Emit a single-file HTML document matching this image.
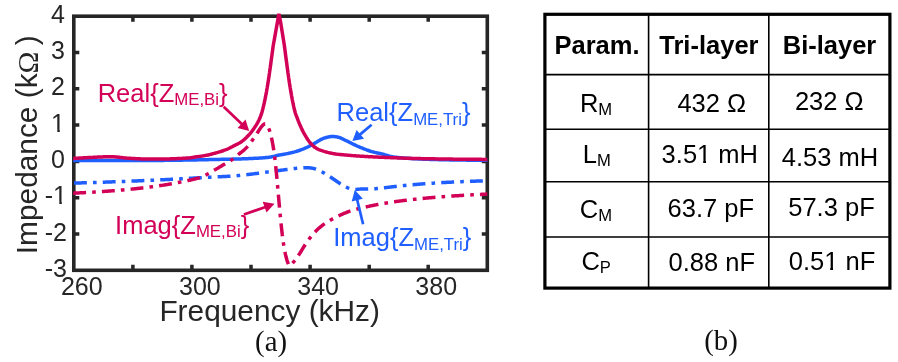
<!DOCTYPE html>
<html><head><meta charset="utf-8"><title>Impedance</title>
<style>
html,body{margin:0;padding:0;background:#fff}
svg{display:block;font-family:"Liberation Sans",sans-serif;will-change:transform}
.serif{font-family:"Liberation Serif",serif}
</style></head>
<body>
<svg width="898" height="362" viewBox="0 0 898 362">
<rect width="898" height="362" fill="#fff"/>
<g stroke="#262626" stroke-width="3.5" fill="none">
<path d="M132.9 270.3V264.8M132.9 16.2V21.7"/>
<path d="M191.9 270.3V264.8M191.9 16.2V21.7"/>
<path d="M251.0 270.3V264.8M251.0 16.2V21.7"/>
<path d="M310.1 270.3V264.8M310.1 16.2V21.7"/>
<path d="M369.2 270.3V264.8M369.2 16.2V21.7"/>
<path d="M428.2 270.3V264.8M428.2 16.2V21.7"/>
<path d="M73.8 234.0H79.3M487.3 234.0H481.8"/>
<path d="M73.8 197.7H79.3M487.3 197.7H481.8"/>
<path d="M73.8 161.4H79.3M487.3 161.4H481.8"/>
<path d="M73.8 125.1H79.3M487.3 125.1H481.8"/>
<path d="M73.8 88.8H79.3M487.3 88.8H481.8"/>
<path d="M73.8 52.5H79.3M487.3 52.5H481.8"/>
</g>
<rect x="73.8" y="16.2" width="413.5" height="254.1" fill="none" stroke="#262626" stroke-width="3.6"/>
<g fill="none" stroke-width="3.5" stroke-linejoin="bevel">
<path d="M73.20 160.51L73.80 160.51L74.54 160.51L75.28 160.52L76.02 160.52L76.75 160.52L77.49 160.53L78.23 160.53L78.97 160.54L79.71 160.54L80.45 160.54L81.18 160.55L81.92 160.55L82.66 160.55L83.40 160.56L84.14 160.56L84.88 160.56L85.61 160.57L86.35 160.57L87.09 160.57L87.83 160.57L88.57 160.58L89.31 160.58L90.04 160.58L90.78 160.58L91.52 160.59L92.26 160.59L93.00 160.59L93.74 160.59L94.47 160.59L95.21 160.60L95.95 160.60L96.69 160.60L97.43 160.60L98.17 160.60L98.91 160.60L99.64 160.61L100.38 160.61L101.12 160.61L101.86 160.61L102.60 160.61L103.34 160.61L104.07 160.61L104.81 160.61L105.55 160.61L106.29 160.61L107.03 160.61L107.77 160.62L108.50 160.62L109.24 160.62L109.98 160.62L110.72 160.62L111.46 160.62L112.20 160.62L112.93 160.62L113.67 160.62L114.41 160.62L115.15 160.61L115.89 160.61L116.63 160.61L117.37 160.61L118.10 160.61L118.84 160.61L119.58 160.61L120.32 160.61L121.06 160.61L121.80 160.61L122.53 160.61L123.27 160.60L124.01 160.60L124.75 160.60L125.49 160.60L126.23 160.60L126.96 160.60L127.70 160.59L128.44 160.59L129.18 160.59L129.92 160.59L130.66 160.59L131.39 160.58L132.13 160.58L132.87 160.58L133.61 160.58L134.35 160.57L135.09 160.57L135.82 160.57L136.56 160.57L137.30 160.56L138.04 160.56L138.78 160.56L139.52 160.55L140.26 160.55L140.99 160.55L141.73 160.54L142.47 160.54L143.21 160.54L143.95 160.53L144.69 160.53L145.42 160.52L146.16 160.52L146.90 160.52L147.64 160.51L148.38 160.51L149.12 160.50L149.85 160.50L150.59 160.49L151.33 160.49L152.07 160.48L152.81 160.48L153.55 160.47L154.28 160.47L155.02 160.46L155.76 160.45L156.50 160.45L157.24 160.44L157.98 160.44L158.72 160.43L159.45 160.42L160.19 160.41L160.93 160.41L161.67 160.40L162.41 160.39L163.15 160.38L163.88 160.38L164.62 160.37L165.36 160.36L166.10 160.35L166.84 160.34L167.58 160.33L168.31 160.33L169.05 160.32L169.79 160.31L170.53 160.30L171.27 160.29L172.01 160.28L172.74 160.27L173.48 160.26L174.22 160.25L174.96 160.24L175.70 160.23L176.44 160.22L177.18 160.21L177.91 160.20L178.65 160.19L179.39 160.18L180.13 160.17L180.87 160.15L181.61 160.14L182.34 160.13L183.08 160.12L183.82 160.11L184.56 160.10L185.30 160.08L186.04 160.07L186.77 160.06L187.51 160.05L188.25 160.04L188.99 160.02L189.73 160.01L190.47 160.00L191.20 159.99L191.94 159.97L192.68 159.96L193.42 159.95L194.16 159.93L194.90 159.92L195.63 159.91L196.37 159.89L197.11 159.88L197.85 159.86L198.59 159.85L199.33 159.83L200.07 159.82L200.80 159.80L201.54 159.78L202.28 159.77L203.02 159.75L203.76 159.73L204.50 159.71L205.23 159.70L205.97 159.68L206.71 159.66L207.45 159.64L208.19 159.63L208.93 159.61L209.66 159.59L210.40 159.58L211.14 159.56L211.88 159.54L212.62 159.53L213.36 159.51L214.09 159.50L214.83 159.48L215.57 159.47L216.31 159.45L217.05 159.44L217.79 159.42L218.52 159.41L219.26 159.39L220.00 159.38L220.74 159.37L221.48 159.35L222.22 159.34L222.96 159.32L223.69 159.31L224.43 159.29L225.17 159.28L225.91 159.26L226.65 159.25L227.39 159.23L228.12 159.22L228.86 159.20L229.60 159.18L230.34 159.17L231.08 159.15L231.82 159.13L232.55 159.12L233.29 159.10L234.03 159.08L234.77 159.06L235.51 159.04L236.25 159.03L236.98 159.01L237.72 158.99L238.46 158.97L239.20 158.94L239.94 158.92L240.68 158.90L241.42 158.88L242.15 158.85L242.89 158.83L243.63 158.81L244.37 158.78L245.11 158.75L245.85 158.73L246.58 158.70L247.32 158.67L248.06 158.64L248.80 158.61L249.54 158.58L250.28 158.55L251.01 158.52L251.75 158.48L252.49 158.45L253.23 158.41L253.97 158.37L254.71 158.34L255.44 158.30L256.18 158.26L256.92 158.21L257.66 158.17L258.40 158.13L259.14 158.08L259.88 158.03L260.61 157.98L261.35 157.93L262.09 157.88L262.83 157.83L263.57 157.77L264.31 157.71L265.04 157.66L265.78 157.59L266.52 157.53L267.26 157.47L268.00 157.40L268.74 157.32L269.47 157.22L270.21 157.10L270.95 156.96L271.69 156.80L272.43 156.64L273.17 156.47L273.90 156.29L274.64 156.10L275.38 155.92L276.12 155.73L276.86 155.55L277.60 155.38L278.33 155.22L279.07 155.07L279.81 154.93L280.55 154.81L281.29 154.68L282.03 154.56L282.77 154.43L283.50 154.30L284.24 154.17L284.98 154.04L285.72 153.90L286.46 153.76L287.20 153.61L287.93 153.47L288.67 153.31L289.41 153.15L290.15 152.99L290.89 152.82L291.63 152.65L292.36 152.47L293.10 152.28L293.84 152.09L294.58 151.89L295.32 151.68L296.06 151.46L296.79 151.24L297.53 151.00L298.27 150.76L299.01 150.51L299.75 150.25L300.49 149.99L301.23 149.71L301.96 149.43L302.70 149.14L303.44 148.84L304.18 148.53L304.92 148.21L305.66 147.89L306.39 147.56L307.13 147.22L307.87 146.87L308.61 146.51L309.35 146.14L310.09 145.76L310.82 145.37L311.56 144.97L312.30 144.56L313.04 144.15L313.78 143.73L314.52 143.30L315.25 142.87L315.99 142.45L316.73 142.01L317.47 141.56L318.21 141.10L318.95 140.65L319.68 140.22L320.42 139.80L321.16 139.42L321.90 139.07L322.64 138.75L323.38 138.45L324.12 138.18L324.85 137.93L325.59 137.70L326.33 137.49L327.07 137.28L327.81 137.09L328.55 136.93L329.28 136.79L330.02 136.68L330.76 136.60L331.50 136.54L332.24 136.50L332.98 136.49L333.71 136.51L334.45 136.56L335.19 136.64L335.93 136.74L336.67 136.87L337.41 137.03L338.14 137.22L338.88 137.43L339.62 137.67L340.36 137.94L341.10 138.23L341.84 138.55L342.57 138.89L343.31 139.24L344.05 139.60L344.79 139.97L345.53 140.33L346.27 140.68L347.01 141.04L347.74 141.40L348.48 141.76L349.22 142.13L349.96 142.50L350.70 142.87L351.44 143.24L352.17 143.60L352.91 143.97L353.65 144.34L354.39 144.70L355.13 145.05L355.87 145.40L356.60 145.74L357.34 146.07L358.08 146.40L358.82 146.72L359.56 147.03L360.30 147.34L361.03 147.64L361.77 147.94L362.51 148.24L363.25 148.54L363.99 148.84L364.73 149.13L365.47 149.42L366.20 149.70L366.94 149.98L367.68 150.24L368.42 150.50L369.16 150.76L369.90 151.00L370.63 151.23L371.37 151.45L372.11 151.66L372.85 151.86L373.59 152.06L374.33 152.24L375.06 152.42L375.80 152.60L376.54 152.76L377.28 152.93L378.02 153.09L378.76 153.24L379.49 153.40L380.23 153.55L380.97 153.71L381.71 153.89L382.45 154.07L383.19 154.27L383.93 154.47L384.66 154.68L385.40 154.89L386.14 155.10L386.88 155.32L387.62 155.53L388.36 155.74L389.09 155.94L389.83 156.14L390.57 156.33L391.31 156.51L392.05 156.67L392.79 156.82L393.52 156.96L394.26 157.08L395.00 157.18L395.74 157.26L396.48 157.34L397.22 157.42L397.95 157.49L398.69 157.56L399.43 157.64L400.17 157.70L400.91 157.77L401.65 157.84L402.38 157.90L403.12 157.96L403.86 158.02L404.60 158.08L405.34 158.14L406.08 158.19L406.82 158.24L407.55 158.30L408.29 158.35L409.03 158.40L409.77 158.44L410.51 158.49L411.25 158.54L411.98 158.58L412.72 158.63L413.46 158.67L414.20 158.71L414.94 158.75L415.68 158.79L416.41 158.83L417.15 158.86L417.89 158.90L418.63 158.94L419.37 158.97L420.11 159.00L420.84 159.04L421.58 159.07L422.32 159.10L423.06 159.13L423.80 159.16L424.54 159.19L425.28 159.22L426.01 159.25L426.75 159.28L427.49 159.30L428.23 159.33L428.97 159.36L429.71 159.38L430.44 159.41L431.18 159.43L431.92 159.45L432.66 159.48L433.40 159.50L434.14 159.52L434.87 159.54L435.61 159.56L436.35 159.58L437.09 159.60L437.83 159.62L438.57 159.64L439.30 159.66L440.04 159.68L440.78 159.70L441.52 159.71L442.26 159.73L443.00 159.75L443.73 159.76L444.47 159.78L445.21 159.80L445.95 159.81L446.69 159.83L447.43 159.84L448.17 159.86L448.90 159.87L449.64 159.88L450.38 159.90L451.12 159.91L451.86 159.92L452.60 159.94L453.33 159.95L454.07 159.96L454.81 159.97L455.55 159.98L456.29 160.00L457.03 160.01L457.76 160.02L458.50 160.03L459.24 160.04L459.98 160.05L460.72 160.06L461.46 160.07L462.19 160.08L462.93 160.09L463.67 160.10L464.41 160.11L465.15 160.11L465.89 160.12L466.62 160.13L467.36 160.14L468.10 160.15L468.84 160.16L469.58 160.16L470.32 160.17L471.06 160.18L471.79 160.18L472.53 160.19L473.27 160.20L474.01 160.21L474.75 160.21L475.49 160.22L476.22 160.22L476.96 160.23L477.70 160.24L478.44 160.24L479.18 160.25L479.92 160.25L480.65 160.26L481.39 160.26L482.13 160.27L482.87 160.27L483.61 160.28L484.35 160.28L485.08 160.29L485.82 160.29L486.56 160.30L487.30 160.30" stroke="#1f5eff"/>
<path d="M73.20 183.11L73.80 183.11L74.54 183.09L75.28 183.07L76.02 183.04L76.75 183.02L77.49 183.00L78.23 182.98L78.97 182.96L79.71 182.93L80.45 182.91L81.18 182.89L81.92 182.87L82.66 182.85L83.40 182.82L84.14 182.80L84.88 182.78L85.61 182.76L86.35 182.73L87.09 182.71L87.83 182.69L88.57 182.66L89.31 182.64L90.04 182.62L90.78 182.59L91.52 182.57L92.26 182.55L93.00 182.52L93.74 182.50L94.47 182.48L95.21 182.45L95.95 182.43L96.69 182.40L97.43 182.38L98.17 182.36L98.91 182.33L99.64 182.31L100.38 182.28L101.12 182.26L101.86 182.23L102.60 182.21L103.34 182.18L104.07 182.16L104.81 182.13L105.55 182.11L106.29 182.08L107.03 182.06L107.77 182.03L108.50 182.00L109.24 181.98L109.98 181.95L110.72 181.93L111.46 181.90L112.20 181.87L112.93 181.85L113.67 181.82L114.41 181.79L115.15 181.76L115.89 181.74L116.63 181.71L117.37 181.68L118.10 181.65L118.84 181.63L119.58 181.60L120.32 181.57L121.06 181.54L121.80 181.51L122.53 181.48L123.27 181.46L124.01 181.43L124.75 181.40L125.49 181.37L126.23 181.34L126.96 181.31L127.70 181.28L128.44 181.25L129.18 181.22L129.92 181.19L130.66 181.16L131.39 181.13L132.13 181.09L132.87 181.06L133.61 181.03L134.35 181.00L135.09 180.97L135.82 180.94L136.56 180.91L137.30 180.88L138.04 180.84L138.78 180.81L139.52 180.78L140.26 180.75L140.99 180.72L141.73 180.68L142.47 180.65L143.21 180.62L143.95 180.59L144.69 180.55L145.42 180.52L146.16 180.49L146.90 180.45L147.64 180.42L148.38 180.39L149.12 180.35L149.85 180.32L150.59 180.29L151.33 180.25L152.07 180.22L152.81 180.19L153.55 180.15L154.28 180.12L155.02 180.08L155.76 180.05L156.50 180.01L157.24 179.98L157.98 179.95L158.72 179.91L159.45 179.88L160.19 179.84L160.93 179.81L161.67 179.77L162.41 179.74L163.15 179.70L163.88 179.67L164.62 179.63L165.36 179.60L166.10 179.56L166.84 179.52L167.58 179.49L168.31 179.45L169.05 179.42L169.79 179.38L170.53 179.34L171.27 179.31L172.01 179.27L172.74 179.23L173.48 179.20L174.22 179.16L174.96 179.12L175.70 179.08L176.44 179.04L177.18 179.01L177.91 178.97L178.65 178.93L179.39 178.89L180.13 178.85L180.87 178.81L181.61 178.77L182.34 178.73L183.08 178.69L183.82 178.65L184.56 178.61L185.30 178.57L186.04 178.52L186.77 178.48L187.51 178.44L188.25 178.40L188.99 178.36L189.73 178.32L190.47 178.28L191.20 178.23L191.94 178.19L192.68 178.15L193.42 178.11L194.16 178.07L194.90 178.02L195.63 177.98L196.37 177.94L197.11 177.90L197.85 177.85L198.59 177.81L199.33 177.77L200.07 177.73L200.80 177.68L201.54 177.64L202.28 177.60L203.02 177.56L203.76 177.51L204.50 177.47L205.23 177.43L205.97 177.39L206.71 177.34L207.45 177.30L208.19 177.26L208.93 177.22L209.66 177.17L210.40 177.13L211.14 177.10L211.88 177.06L212.62 177.02L213.36 176.99L214.09 176.96L214.83 176.92L215.57 176.89L216.31 176.86L217.05 176.83L217.79 176.80L218.52 176.77L219.26 176.74L220.00 176.71L220.74 176.68L221.48 176.65L222.22 176.62L222.96 176.59L223.69 176.55L224.43 176.52L225.17 176.48L225.91 176.44L226.65 176.40L227.39 176.36L228.12 176.32L228.86 176.27L229.60 176.23L230.34 176.18L231.08 176.12L231.82 176.07L232.55 176.02L233.29 175.96L234.03 175.90L234.77 175.84L235.51 175.77L236.25 175.71L236.98 175.64L237.72 175.58L238.46 175.51L239.20 175.44L239.94 175.37L240.68 175.29L241.42 175.22L242.15 175.14L242.89 175.07L243.63 174.99L244.37 174.91L245.11 174.83L245.85 174.74L246.58 174.66L247.32 174.58L248.06 174.49L248.80 174.41L249.54 174.32L250.28 174.23L251.01 174.14L251.75 174.05L252.49 173.96L253.23 173.87L253.97 173.78L254.71 173.68L255.44 173.59L256.18 173.50L256.92 173.40L257.66 173.31L258.40 173.21L259.14 173.12L259.88 173.02L260.61 172.92L261.35 172.83L262.09 172.73L262.83 172.63L263.57 172.53L264.31 172.43L265.04 172.34L265.78 172.24L266.52 172.14L267.26 172.04L268.00 171.94L268.74 171.85L269.47 171.75L270.21 171.65L270.95 171.55L271.69 171.46L272.43 171.36L273.17 171.26L273.90 171.17L274.64 171.07L275.38 170.98L276.12 170.88L276.86 170.79L277.60 170.69L278.33 170.59L279.07 170.50L279.81 170.40L280.55 170.30L281.29 170.20L282.03 170.11L282.77 170.01L283.50 169.91L284.24 169.81L284.98 169.71L285.72 169.61L286.46 169.52L287.20 169.42L287.93 169.32L288.67 169.23L289.41 169.13L290.15 169.04L290.89 168.95L291.63 168.86L292.36 168.77L293.10 168.68L293.84 168.59L294.58 168.51L295.32 168.43L296.06 168.35L296.79 168.27L297.53 168.20L298.27 168.13L299.01 168.06L299.75 168.00L300.49 167.94L301.23 167.89L301.96 167.84L302.70 167.80L303.44 167.77L304.18 167.74L304.92 167.72L305.66 167.70L306.39 167.70L307.13 167.71L307.87 167.73L308.61 167.78L309.35 167.83L310.09 167.91L310.82 168.00L311.56 168.10L312.30 168.23L313.04 168.36L313.78 168.51L314.52 168.68L315.25 168.86L315.99 169.08L316.73 169.33L317.47 169.61L318.21 169.92L318.95 170.26L319.68 170.62L320.42 171.00L321.16 171.40L321.90 171.81L322.64 172.24L323.38 172.68L324.12 173.12L324.85 173.56L325.59 174.00L326.33 174.43L327.07 174.87L327.81 175.32L328.55 175.78L329.28 176.25L330.02 176.73L330.76 177.22L331.50 177.71L332.24 178.21L332.98 178.72L333.71 179.23L334.45 179.74L335.19 180.25L335.93 180.77L336.67 181.29L337.41 181.80L338.14 182.31L338.88 182.82L339.62 183.32L340.36 183.81L341.10 184.29L341.84 184.75L342.57 185.20L343.31 185.63L344.05 186.04L344.79 186.43L345.53 186.80L346.27 187.14L347.01 187.47L347.74 187.77L348.48 188.05L349.22 188.31L349.96 188.54L350.70 188.76L351.44 188.95L352.17 189.12L352.91 189.26L353.65 189.36L354.39 189.41L355.13 189.43L355.87 189.42L356.60 189.38L357.34 189.33L358.08 189.26L358.82 189.19L359.56 189.13L360.30 189.07L361.03 189.02L361.77 189.00L362.51 189.00L363.25 189.00L363.99 189.00L364.73 188.99L365.47 188.99L366.20 188.98L366.94 188.97L367.68 188.96L368.42 188.95L369.16 188.94L369.90 188.92L370.63 188.90L371.37 188.88L372.11 188.86L372.85 188.83L373.59 188.80L374.33 188.76L375.06 188.72L375.80 188.67L376.54 188.62L377.28 188.57L378.02 188.50L378.76 188.43L379.49 188.36L380.23 188.27L380.97 188.19L381.71 188.10L382.45 188.01L383.19 187.92L383.93 187.83L384.66 187.74L385.40 187.65L386.14 187.56L386.88 187.47L387.62 187.38L388.36 187.29L389.09 187.21L389.83 187.12L390.57 187.03L391.31 186.94L392.05 186.85L392.79 186.76L393.52 186.68L394.26 186.59L395.00 186.51L395.74 186.42L396.48 186.34L397.22 186.25L397.95 186.17L398.69 186.09L399.43 186.01L400.17 185.93L400.91 185.85L401.65 185.77L402.38 185.69L403.12 185.62L403.86 185.54L404.60 185.47L405.34 185.39L406.08 185.32L406.82 185.25L407.55 185.18L408.29 185.11L409.03 185.04L409.77 184.97L410.51 184.91L411.25 184.84L411.98 184.77L412.72 184.71L413.46 184.64L414.20 184.58L414.94 184.52L415.68 184.45L416.41 184.39L417.15 184.33L417.89 184.27L418.63 184.21L419.37 184.15L420.11 184.09L420.84 184.04L421.58 183.98L422.32 183.92L423.06 183.87L423.80 183.81L424.54 183.76L425.28 183.70L426.01 183.65L426.75 183.59L427.49 183.54L428.23 183.49L428.97 183.44L429.71 183.39L430.44 183.34L431.18 183.29L431.92 183.24L432.66 183.19L433.40 183.14L434.14 183.10L434.87 183.05L435.61 183.00L436.35 182.96L437.09 182.91L437.83 182.87L438.57 182.82L439.30 182.78L440.04 182.74L440.78 182.69L441.52 182.65L442.26 182.61L443.00 182.57L443.73 182.53L444.47 182.49L445.21 182.45L445.95 182.41L446.69 182.37L447.43 182.33L448.17 182.29L448.90 182.25L449.64 182.22L450.38 182.18L451.12 182.14L451.86 182.11L452.60 182.07L453.33 182.04L454.07 182.00L454.81 181.97L455.55 181.93L456.29 181.90L457.03 181.86L457.76 181.83L458.50 181.80L459.24 181.77L459.98 181.73L460.72 181.70L461.46 181.67L462.19 181.64L462.93 181.61L463.67 181.58L464.41 181.55L465.15 181.52L465.89 181.49L466.62 181.46L467.36 181.44L468.10 181.41L468.84 181.38L469.58 181.35L470.32 181.33L471.06 181.30L471.79 181.27L472.53 181.25L473.27 181.22L474.01 181.20L474.75 181.17L475.49 181.15L476.22 181.12L476.96 181.10L477.70 181.07L478.44 181.05L479.18 181.03L479.92 181.00L480.65 180.98L481.39 180.96L482.13 180.94L482.87 180.92L483.61 180.89L484.35 180.87L485.08 180.85L485.82 180.83L486.56 180.81L487.30 180.79" stroke="#1f5eff" stroke-dasharray="12.9 6.1 3.65 6.1" stroke-dashoffset="-0.8"/>
<path d="M73.20 158.45L73.80 158.45L74.54 158.40L75.28 158.35L76.02 158.30L76.75 158.25L77.49 158.20L78.23 158.16L78.97 158.11L79.71 158.06L80.45 158.02L81.18 157.97L81.92 157.93L82.66 157.89L83.40 157.84L84.14 157.80L84.88 157.76L85.61 157.72L86.35 157.68L87.09 157.64L87.83 157.60L88.57 157.56L89.31 157.53L90.04 157.49L90.78 157.46L91.52 157.42L92.26 157.38L93.00 157.35L93.74 157.31L94.47 157.27L95.21 157.23L95.95 157.20L96.69 157.16L97.43 157.12L98.17 157.09L98.91 157.05L99.64 157.01L100.38 156.98L101.12 156.95L101.86 156.92L102.60 156.89L103.34 156.86L104.07 156.83L104.81 156.81L105.55 156.78L106.29 156.76L107.03 156.75L107.77 156.73L108.50 156.72L109.24 156.71L109.98 156.70L110.72 156.70L111.46 156.71L112.20 156.73L112.93 156.76L113.67 156.80L114.41 156.85L115.15 156.90L115.89 156.96L116.63 157.03L117.37 157.09L118.10 157.17L118.84 157.24L119.58 157.32L120.32 157.41L121.06 157.49L121.80 157.57L122.53 157.65L123.27 157.74L124.01 157.82L124.75 157.89L125.49 157.97L126.23 158.04L126.96 158.11L127.70 158.17L128.44 158.23L129.18 158.27L129.92 158.32L130.66 158.36L131.39 158.40L132.13 158.44L132.87 158.49L133.61 158.53L134.35 158.57L135.09 158.61L135.82 158.65L136.56 158.69L137.30 158.72L138.04 158.76L138.78 158.80L139.52 158.83L140.26 158.86L140.99 158.89L141.73 158.92L142.47 158.95L143.21 158.98L143.95 159.00L144.69 159.02L145.42 159.04L146.16 159.06L146.90 159.07L147.64 159.08L148.38 159.09L149.12 159.10L149.85 159.10L150.59 159.10L151.33 159.11L152.07 159.11L152.81 159.11L153.55 159.11L154.28 159.11L155.02 159.11L155.76 159.11L156.50 159.11L157.24 159.10L157.98 159.10L158.72 159.09L159.45 159.09L160.19 159.08L160.93 159.08L161.67 159.07L162.41 159.06L163.15 159.05L163.88 159.03L164.62 159.02L165.36 159.01L166.10 158.99L166.84 158.97L167.58 158.95L168.31 158.93L169.05 158.91L169.79 158.89L170.53 158.86L171.27 158.84L172.01 158.81L172.74 158.78L173.48 158.76L174.22 158.73L174.96 158.70L175.70 158.67L176.44 158.64L177.18 158.60L177.91 158.57L178.65 158.53L179.39 158.50L180.13 158.46L180.87 158.42L181.61 158.38L182.34 158.34L183.08 158.30L183.82 158.26L184.56 158.22L185.30 158.17L186.04 158.12L186.77 158.08L187.51 158.03L188.25 157.98L188.99 157.92L189.73 157.86L190.47 157.79L191.20 157.69L191.94 157.58L192.68 157.46L193.42 157.33L194.16 157.20L194.90 157.07L195.63 156.96L196.37 156.85L197.11 156.74L197.85 156.64L198.59 156.53L199.33 156.43L200.07 156.33L200.80 156.22L201.54 156.12L202.28 156.01L203.02 155.89L203.76 155.78L204.50 155.65L205.23 155.52L205.97 155.39L206.71 155.24L207.45 155.09L208.19 154.92L208.93 154.75L209.66 154.58L210.40 154.39L211.14 154.20L211.88 154.01L212.62 153.81L213.36 153.61L214.09 153.40L214.83 153.20L215.57 152.99L216.31 152.79L217.05 152.58L217.79 152.36L218.52 152.14L219.26 151.92L220.00 151.70L220.74 151.46L221.48 151.23L222.22 150.98L222.96 150.73L223.69 150.48L224.43 150.21L225.17 149.94L225.91 149.66L226.65 149.36L227.39 149.05L228.12 148.72L228.86 148.38L229.60 148.03L230.34 147.67L231.08 147.31L231.82 146.93L232.55 146.56L233.29 146.18L234.03 145.80L234.77 145.42L235.51 145.05L236.25 144.68L236.98 144.30L237.72 143.92L238.46 143.52L239.20 143.10L239.94 142.66L240.68 142.20L241.42 141.71L242.15 141.19L242.89 140.63L243.63 140.02L244.37 139.38L245.11 138.70L245.85 137.99L246.58 137.26L247.32 136.50L248.06 135.74L248.80 134.95L249.54 134.14L250.28 133.29L251.01 132.41L251.75 131.47L252.49 130.48L253.23 129.44L253.97 128.40L254.71 127.35L255.44 126.27L256.18 125.11L256.92 123.86L257.66 122.56L258.40 121.21L259.14 119.74L259.88 118.06L260.61 116.21L261.35 114.15L262.09 111.68L262.83 108.89L263.57 105.89L264.31 102.65L265.04 99.18L265.78 95.45L266.52 91.47L267.26 87.23L268.00 82.72L268.74 77.96L269.47 72.96L270.21 67.76L270.95 62.39L271.69 56.92L272.43 51.42L273.17 45.99L278.90 13.90L280.50 21.50L284.24 44.79L284.98 50.30L285.72 55.92L286.46 61.56L287.20 67.12L287.93 72.53L288.67 77.74L289.41 82.73L290.15 87.46L290.89 91.92L291.63 96.12L292.36 100.05L293.10 103.73L293.84 107.15L294.58 110.34L295.32 112.97L296.06 115.08L296.79 116.97L297.53 118.96L298.27 120.89L299.01 122.70L299.75 124.43L300.49 126.12L301.23 127.79L301.96 129.38L302.70 130.88L303.44 132.31L304.18 133.66L304.92 134.93L305.66 136.16L306.39 137.38L307.13 138.57L307.87 139.72L308.61 140.81L309.35 141.82L310.09 142.74L310.82 143.57L311.56 144.35L312.30 145.08L313.04 145.77L313.78 146.42L314.52 147.02L315.25 147.56L315.99 148.06L316.73 148.51L317.47 148.91L318.21 149.27L318.95 149.60L319.68 149.91L320.42 150.18L321.16 150.44L321.90 150.68L322.64 150.92L323.38 151.15L324.12 151.37L324.85 151.60L325.59 151.82L326.33 152.02L327.07 152.22L327.81 152.41L328.55 152.59L329.28 152.77L330.02 152.93L330.76 153.09L331.50 153.24L332.24 153.39L332.98 153.53L333.71 153.66L334.45 153.78L335.19 153.90L335.93 154.01L336.67 154.11L337.41 154.21L338.14 154.30L338.88 154.38L339.62 154.46L340.36 154.54L341.10 154.61L341.84 154.68L342.57 154.75L343.31 154.81L344.05 154.87L344.79 154.93L345.53 155.00L346.27 155.06L347.01 155.12L347.74 155.18L348.48 155.25L349.22 155.31L349.96 155.38L350.70 155.44L351.44 155.50L352.17 155.56L352.91 155.62L353.65 155.68L354.39 155.73L355.13 155.78L355.87 155.84L356.60 155.89L357.34 155.94L358.08 155.99L358.82 156.04L359.56 156.09L360.30 156.13L361.03 156.18L361.77 156.23L362.51 156.28L363.25 156.32L363.99 156.37L364.73 156.41L365.47 156.46L366.20 156.50L366.94 156.54L367.68 156.59L368.42 156.63L369.16 156.67L369.90 156.71L370.63 156.75L371.37 156.79L372.11 156.83L372.85 156.87L373.59 156.90L374.33 156.94L375.06 156.98L375.80 157.01L376.54 157.05L377.28 157.08L378.02 157.11L378.76 157.15L379.49 157.18L380.23 157.21L380.97 157.24L381.71 157.27L382.45 157.30L383.19 157.34L383.93 157.37L384.66 157.40L385.40 157.43L386.14 157.46L386.88 157.49L387.62 157.52L388.36 157.55L389.09 157.58L389.83 157.61L390.57 157.64L391.31 157.67L392.05 157.70L392.79 157.73L393.52 157.76L394.26 157.79L395.00 157.82L395.74 157.85L396.48 157.87L397.22 157.90L397.95 157.93L398.69 157.96L399.43 157.99L400.17 158.01L400.91 158.04L401.65 158.07L402.38 158.09L403.12 158.12L403.86 158.15L404.60 158.17L405.34 158.20L406.08 158.22L406.82 158.25L407.55 158.27L408.29 158.29L409.03 158.32L409.77 158.34L410.51 158.36L411.25 158.38L411.98 158.40L412.72 158.42L413.46 158.44L414.20 158.46L414.94 158.48L415.68 158.50L416.41 158.52L417.15 158.54L417.89 158.56L418.63 158.57L419.37 158.59L420.11 158.60L420.84 158.62L421.58 158.63L422.32 158.65L423.06 158.66L423.80 158.67L424.54 158.69L425.28 158.70L426.01 158.72L426.75 158.73L427.49 158.74L428.23 158.76L428.97 158.77L429.71 158.78L430.44 158.79L431.18 158.81L431.92 158.82L432.66 158.83L433.40 158.84L434.14 158.86L434.87 158.87L435.61 158.88L436.35 158.89L437.09 158.90L437.83 158.91L438.57 158.93L439.30 158.94L440.04 158.95L440.78 158.96L441.52 158.97L442.26 158.98L443.00 158.99L443.73 159.00L444.47 159.01L445.21 159.02L445.95 159.03L446.69 159.04L447.43 159.05L448.17 159.06L448.90 159.07L449.64 159.08L450.38 159.09L451.12 159.10L451.86 159.11L452.60 159.12L453.33 159.13L454.07 159.13L454.81 159.14L455.55 159.15L456.29 159.16L457.03 159.17L457.76 159.18L458.50 159.18L459.24 159.19L459.98 159.20L460.72 159.21L461.46 159.21L462.19 159.22L462.93 159.23L463.67 159.24L464.41 159.24L465.15 159.25L465.89 159.26L466.62 159.26L467.36 159.27L468.10 159.28L468.84 159.28L469.58 159.29L470.32 159.30L471.06 159.30L471.79 159.31L472.53 159.31L473.27 159.32L474.01 159.32L474.75 159.33L475.49 159.33L476.22 159.34L476.96 159.34L477.70 159.35L478.44 159.35L479.18 159.36L479.92 159.36L480.65 159.37L481.39 159.37L482.13 159.38L482.87 159.38L483.61 159.38L484.35 159.39L485.08 159.39L485.82 159.39L486.56 159.40L487.30 159.40" stroke="#d30057"/>
<path d="M73.20 193.14L73.80 193.14L74.54 193.10L75.28 193.07L76.02 193.03L76.75 193.00L77.49 192.96L78.23 192.93L78.97 192.89L79.71 192.86L80.45 192.82L81.18 192.78L81.92 192.75L82.66 192.71L83.40 192.67L84.14 192.63L84.88 192.59L85.61 192.55L86.35 192.51L87.09 192.47L87.83 192.43L88.57 192.39L89.31 192.35L90.04 192.31L90.78 192.26L91.52 192.22L92.26 192.18L93.00 192.13L93.74 192.09L94.47 192.04L95.21 192.00L95.95 191.95L96.69 191.90L97.43 191.86L98.17 191.81L98.91 191.76L99.64 191.71L100.38 191.66L101.12 191.61L101.86 191.56L102.60 191.51L103.34 191.46L104.07 191.41L104.81 191.36L105.55 191.30L106.29 191.25L107.03 191.20L107.77 191.15L108.50 191.09L109.24 191.04L109.98 190.98L110.72 190.93L111.46 190.87L112.20 190.81L112.93 190.76L113.67 190.70L114.41 190.64L115.15 190.58L115.89 190.53L116.63 190.47L117.37 190.40L118.10 190.34L118.84 190.28L119.58 190.22L120.32 190.16L121.06 190.09L121.80 190.03L122.53 189.96L123.27 189.90L124.01 189.83L124.75 189.76L125.49 189.70L126.23 189.63L126.96 189.56L127.70 189.49L128.44 189.41L129.18 189.34L129.92 189.27L130.66 189.19L131.39 189.12L132.13 189.05L132.87 188.97L133.61 188.89L134.35 188.82L135.09 188.74L135.82 188.66L136.56 188.58L137.30 188.50L138.04 188.42L138.78 188.34L139.52 188.26L140.26 188.18L140.99 188.09L141.73 188.01L142.47 187.93L143.21 187.84L143.95 187.75L144.69 187.67L145.42 187.58L146.16 187.49L146.90 187.40L147.64 187.31L148.38 187.22L149.12 187.12L149.85 187.03L150.59 186.93L151.33 186.84L152.07 186.74L152.81 186.64L153.55 186.54L154.28 186.44L155.02 186.34L155.76 186.24L156.50 186.13L157.24 186.03L157.98 185.92L158.72 185.82L159.45 185.71L160.19 185.60L160.93 185.49L161.67 185.37L162.41 185.26L163.15 185.14L163.88 185.03L164.62 184.91L165.36 184.79L166.10 184.67L166.84 184.55L167.58 184.42L168.31 184.30L169.05 184.17L169.79 184.05L170.53 183.92L171.27 183.79L172.01 183.66L172.74 183.53L173.48 183.39L174.22 183.26L174.96 183.12L175.70 182.99L176.44 182.85L177.18 182.71L177.91 182.57L178.65 182.43L179.39 182.28L180.13 182.14L180.87 181.99L181.61 181.85L182.34 181.70L183.08 181.56L183.82 181.41L184.56 181.26L185.30 181.11L186.04 180.96L186.77 180.80L187.51 180.65L188.25 180.49L188.99 180.33L189.73 180.17L190.47 180.00L191.20 179.84L191.94 179.67L192.68 179.49L193.42 179.32L194.16 179.14L194.90 178.95L195.63 178.77L196.37 178.57L197.11 178.38L197.85 178.18L198.59 177.97L199.33 177.76L200.07 177.53L200.80 177.28L201.54 177.00L202.28 176.69L203.02 176.37L203.76 176.02L204.50 175.66L205.23 175.29L205.97 174.90L206.71 174.50L207.45 174.09L208.19 173.67L208.93 173.24L209.66 172.81L210.40 172.38L211.14 171.95L211.88 171.52L212.62 171.09L213.36 170.66L214.09 170.25L214.83 169.84L215.57 169.43L216.31 169.01L217.05 168.58L217.79 168.15L218.52 167.71L219.26 167.27L220.00 166.83L220.74 166.38L221.48 165.94L222.22 165.50L222.96 165.06L223.69 164.63L224.43 164.21L225.17 163.79L225.91 163.37L226.65 162.95L227.39 162.52L228.12 162.08L228.86 161.64L229.60 161.18L230.34 160.71L231.08 160.23L231.82 159.73L232.55 159.21L233.29 158.66L234.03 158.09L234.77 157.50L235.51 156.90L236.25 156.28L236.98 155.66L237.72 155.05L238.46 154.43L239.20 153.83L239.94 153.25L240.68 152.67L241.41 152.10L242.15 151.52L242.88 150.93L243.61 150.33L244.34 149.70L245.07 149.04L245.80 148.35L246.53 147.61L247.25 146.83L247.98 145.99L248.70 145.11L249.42 144.20L250.15 143.27L250.87 142.32L251.58 141.34L252.30 140.35L253.02 139.35L253.74 138.34L254.45 137.30L255.16 136.25L255.88 135.19L256.57 134.12L257.25 133.04L257.92 131.97L258.57 130.92L259.21 129.91L259.85 128.94L260.49 128.02L261.12 127.14L261.77 126.33L262.41 125.59L263.07 124.94L263.72 124.40L264.36 124.00L265.00 123.79L265.65 123.81L266.31 124.13L266.98 124.80L267.68 125.88L268.42 127.43L269.22 129.53L270.08 132.23L270.98 135.61L271.91 139.69L272.84 144.53L273.75 150.14L274.62 156.49L275.43 163.54L276.21 171.19L276.98 179.32L277.75 187.76L278.52 196.35L279.28 204.87L280.04 213.16L280.80 221.02L281.56 228.33L282.32 234.98L283.09 240.89L283.85 246.03L284.62 250.43L285.38 254.15L286.15 257.31L286.92 260.06L287.68 262.47L288.45 264.40L289.21 265.59L289.97 265.87L290.73 265.36L291.50 264.46L292.26 263.49L293.03 262.58L293.79 261.73L294.55 260.85L295.30 259.91L296.05 258.92L296.79 257.88L297.53 256.80L298.27 255.70L299.01 254.57L299.75 253.41L300.49 252.23L301.23 251.02L301.96 249.81L302.70 248.60L303.44 247.40L304.18 246.22L304.92 245.06L305.66 243.94L306.39 242.86L307.13 241.81L307.87 240.78L308.61 239.77L309.35 238.78L310.09 237.81L310.82 236.86L311.56 235.94L312.30 235.04L313.04 234.17L313.78 233.32L314.52 232.50L315.25 231.71L315.99 230.94L316.73 230.20L317.47 229.49L318.21 228.81L318.95 228.15L319.68 227.53L320.42 226.93L321.16 226.34L321.90 225.77L322.64 225.21L323.38 224.67L324.12 224.14L324.85 223.63L325.59 223.13L326.33 222.64L327.07 222.16L327.81 221.69L328.55 221.24L329.28 220.79L330.02 220.36L330.76 219.93L331.50 219.51L332.24 219.10L332.98 218.70L333.71 218.31L334.45 217.92L335.19 217.54L335.93 217.17L336.67 216.80L337.41 216.43L338.14 216.07L338.88 215.72L339.62 215.37L340.36 215.03L341.10 214.70L341.84 214.37L342.57 214.04L343.31 213.73L344.05 213.42L344.79 213.11L345.53 212.82L346.27 212.53L347.01 212.24L347.74 211.97L348.48 211.70L349.22 211.44L349.96 211.18L350.70 210.93L351.44 210.69L352.17 210.46L352.91 210.23L353.65 210.01L354.39 209.79L355.13 209.57L355.87 209.36L356.60 209.16L357.34 208.96L358.08 208.76L358.82 208.57L359.56 208.38L360.30 208.20L361.03 208.02L361.77 207.84L362.51 207.67L363.25 207.50L363.99 207.33L364.73 207.16L365.47 207.00L366.20 206.83L366.94 206.67L367.68 206.52L368.42 206.36L369.16 206.21L369.90 206.05L370.63 205.90L371.37 205.75L372.11 205.60L372.85 205.45L373.59 205.30L374.33 205.16L375.06 205.01L375.80 204.87L376.54 204.73L377.28 204.59L378.02 204.45L378.76 204.31L379.49 204.18L380.23 204.05L380.97 203.92L381.71 203.79L382.45 203.66L383.19 203.53L383.93 203.40L384.66 203.28L385.40 203.16L386.14 203.04L386.88 202.92L387.62 202.80L388.36 202.68L389.09 202.57L389.83 202.45L390.57 202.34L391.31 202.23L392.05 202.11L392.79 202.01L393.52 201.90L394.26 201.79L395.00 201.68L395.74 201.58L396.48 201.48L397.22 201.37L397.95 201.27L398.69 201.17L399.43 201.08L400.17 200.98L400.91 200.88L401.65 200.79L402.38 200.69L403.12 200.60L403.86 200.51L404.60 200.41L405.34 200.32L406.08 200.23L406.82 200.15L407.55 200.06L408.29 199.97L409.03 199.88L409.77 199.80L410.51 199.71L411.25 199.63L411.98 199.55L412.72 199.47L413.46 199.38L414.20 199.30L414.94 199.22L415.68 199.15L416.41 199.07L417.15 198.99L417.89 198.91L418.63 198.84L419.37 198.76L420.11 198.69L420.84 198.61L421.58 198.54L422.32 198.47L423.06 198.40L423.80 198.33L424.54 198.26L425.28 198.19L426.01 198.12L426.75 198.05L427.49 197.98L428.23 197.92L428.97 197.85L429.71 197.78L430.44 197.72L431.18 197.65L431.92 197.59L432.66 197.53L433.40 197.46L434.14 197.40L434.87 197.34L435.61 197.28L436.35 197.22L437.09 197.16L437.83 197.10L438.57 197.04L439.30 196.98L440.04 196.92L440.78 196.87L441.52 196.81L442.26 196.75L443.00 196.70L443.73 196.64L444.47 196.59L445.21 196.53L445.95 196.48L446.69 196.43L447.43 196.37L448.17 196.32L448.90 196.27L449.64 196.22L450.38 196.17L451.12 196.12L451.86 196.07L452.60 196.02L453.33 195.97L454.07 195.92L454.81 195.87L455.55 195.82L456.29 195.77L457.03 195.72L457.76 195.68L458.50 195.63L459.24 195.59L459.98 195.54L460.72 195.49L461.46 195.45L462.19 195.40L462.93 195.36L463.67 195.32L464.41 195.27L465.15 195.23L465.89 195.19L466.62 195.14L467.36 195.10L468.10 195.06L468.84 195.02L469.58 194.98L470.32 194.94L471.06 194.90L471.79 194.86L472.53 194.82L473.27 194.78L474.01 194.74L474.75 194.70L475.49 194.66L476.22 194.62L476.96 194.59L477.70 194.55L478.44 194.51L479.18 194.47L479.92 194.44L480.65 194.40L481.39 194.37L482.13 194.33L482.87 194.30L483.61 194.26L484.35 194.23L485.08 194.19L485.82 194.16L486.56 194.12L487.30 194.09" stroke="#d30057" stroke-dasharray="12.9 6.1 3.65 6.1"/>
</g>
<g fill="#262626" font-size="25"><text x="67" y="276.9" text-anchor="end">-3</text><text x="67" y="240.6" text-anchor="end">-2</text><text x="67" y="204.3" text-anchor="end">-1</text><text x="65" y="168.0" text-anchor="end">0</text><text x="65" y="131.7" text-anchor="end">1</text><text x="65" y="95.4" text-anchor="end">2</text><text x="65" y="59.1" text-anchor="end">3</text><text x="65" y="22.8" text-anchor="end">4</text><text x="81.8" y="294.8" text-anchor="middle">260</text><text x="199.9" y="294.8" text-anchor="middle">300</text><text x="318.1" y="294.8" text-anchor="middle">340</text><text x="436.2" y="294.8" text-anchor="middle">380</text></g>
<text fill="#262626" font-size="29.85" transform="translate(36.9 254.2) rotate(-90)">Impedance (k<tspan class="serif" font-size="29.5" dx="-0.2" dy="0.6">Ω</tspan><tspan dx="-2.0" dy="-0.6"> )</tspan></text>
<text fill="#262626" font-size="29.85" x="159.4" y="321.2">Frequency (kHz)</text>
<text class="serif" font-size="28.8" x="271.1" y="351.2" text-anchor="middle" fill="#111">(a)</text>
<text class="serif" font-size="28.8" x="721" y="349.7" text-anchor="middle" fill="#111">(b)</text>
<text x="97.7" y="101.6" fill="#d30057" font-size="25.5">Real{Z<tspan font-size="16.8" dy="3.3">ME,Bi</tspan><tspan dy="-3.3">}</tspan></text>
<text x="336.6" y="121.3" fill="#1f5eff" font-size="25.5">Real{Z<tspan font-size="16.8" dy="3.3">ME,Tri</tspan><tspan dy="-3.3">}</tspan></text>
<text x="115.1" y="233.5" fill="#d30057" font-size="25.5">Imag{Z<tspan font-size="16.8" dy="3.3">ME,Bi</tspan><tspan dy="-3.3">}</tspan></text>
<text x="333.2" y="246.4" fill="#1f5eff" font-size="25.5">Imag{Z<tspan font-size="16.8" dy="3.3">ME,Tri</tspan><tspan dy="-3.3">}</tspan></text>
<path d="M223.7 106.8L242.3 124.5" stroke="#d30057" stroke-width="2.7" fill="none"/><path d="M249.2 131.0L237.6 127.9L245.5 119.6Z" fill="#d30057"/>
<path d="M371.6 124.7L359.6 134.9" stroke="#1f5eff" stroke-width="2.7" fill="none"/><path d="M352.4 141.1L356.6 129.9L364.1 138.7Z" fill="#1f5eff"/>
<path d="M243.9 214.6L265.6 206.9" stroke="#d30057" stroke-width="2.7" fill="none"/><path d="M274.5 203.7L266.5 212.6L262.7 201.8Z" fill="#d30057"/>
<path d="M363.1 224.2L357.0 199.1" stroke="#1f5eff" stroke-width="2.7" fill="none"/><path d="M354.8 189.9L362.9 198.8L351.7 201.5Z" fill="#1f5eff"/>
<rect x="544.9" y="14.3" width="345.0" height="273.8" fill="none" stroke="#000" stroke-width="3.2"/><path d="M648.6 14.3V288.1M768.8 14.3V288.1M544.9 74.6H889.9M544.9 129.3H889.9M544.9 181.8H889.9M544.9 237H889.9" stroke="#000" stroke-width="1.6" fill="none"/>
<g font-size="25.5" fill="#000"><text x="597.0" y="53.7" text-anchor="middle" font-weight="bold">Param.</text><text x="708.9" y="53.6" text-anchor="middle" font-weight="bold">Tri-layer</text><text x="829.5" y="54.1" text-anchor="middle" font-weight="bold">Bi-layer</text><text x="596.0" y="112.1" text-anchor="middle">R<tspan font-size="16.6" dy="3.2">M</tspan></text><text x="711.8" y="112.1" text-anchor="middle">432 Ω</text><text x="829.3" y="109.8" text-anchor="middle">232 Ω</text><text x="596.7" y="163.2" text-anchor="middle">L<tspan font-size="16.6" dy="3.2">M</tspan></text><text x="709.8" y="163.2" text-anchor="middle">3.51 mH</text><text x="830.0" y="165.8" text-anchor="middle">4.53 mH</text><text x="595.9" y="217.7" text-anchor="middle">C<tspan font-size="16.6" dy="3.2">M</tspan></text><text x="710.8" y="216.7" text-anchor="middle">63.7 pF</text><text x="831.5" y="216.4" text-anchor="middle">57.3 pF</text><text x="596.2" y="270.2" text-anchor="middle">C<tspan font-size="16.6" dy="3.2">P</tspan></text><text x="711.8" y="270.8" text-anchor="middle">0.88 nF</text><text x="832.1" y="270.4" text-anchor="middle">0.51 nF</text></g>
<rect x="52.3" y="129.6" width="5.0" height="2.9" fill="#fff"/><rect x="59.8" y="129.6" width="4.8" height="2.9" fill="#fff"/><rect x="54.3" y="201.6" width="5.0" height="2.9" fill="#fff"/><rect x="61.8" y="201.6" width="4.8" height="2.9" fill="#fff"/><rect x="698.3" y="160.6" width="4.9" height="2.9" fill="#fff"/><rect x="706" y="160.6" width="4.8" height="2.9" fill="#fff"/><rect x="825.3" y="267.6" width="4.9" height="2.9" fill="#fff"/><rect x="833" y="267.6" width="5.6" height="2.9" fill="#fff"/>
</svg>
</body></html>
